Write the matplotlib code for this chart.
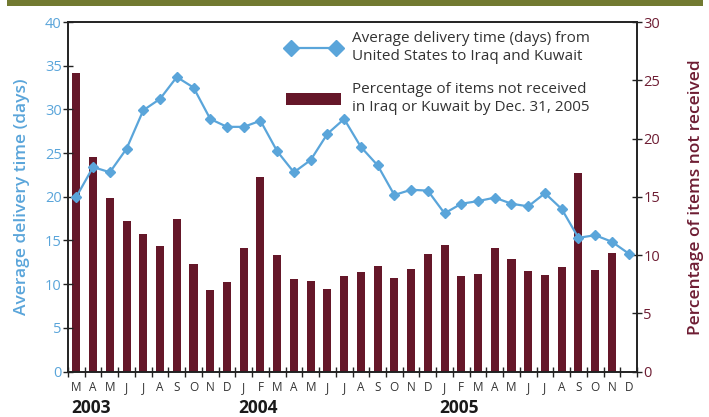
import matplotlib
matplotlib.use("Agg")
import matplotlib.pyplot as plt
from matplotlib.lines import Line2D
from matplotlib.patches import Patch, Rectangle
import numpy as np

plt.rcParams['font.family'] = ['Open Sans', 'DejaVu Sans']

months = ["M", "A", "M", "J", "J", "A", "S", "O", "N", "D",
          "J", "F", "M", "A", "M", "J", "J", "A", "S", "O", "N", "D",
          "J", "F", "M", "A", "M", "J", "J", "A", "S", "O", "N", "D"]
years = ["2003", "2004", "2005"]
year_start_idx = [0, 10, 22]

delivery_days = [20.0, 23.4, 22.8, 25.5, 29.9, 31.2, 33.7, 32.5, 28.9, 28.0,
                 28.0, 28.7, 25.2, 22.8, 24.2, 27.2, 28.9, 25.7, 23.6, 20.2,
                 20.8, 20.7, 18.1, 19.2, 19.5, 19.9, 19.2, 18.9, 20.4, 18.6,
                 15.3, 15.6, 14.85, 13.5]
pct_not_received = [25.66, 18.37, 14.9, 12.88, 11.79, 10.76, 13.1, 9.19, 6.99, 7.65,
                     10.62, 16.68, 10.02, 7.9, 7.76, 7.05, 8.16, 8.53, 9.05, 8.02,
                     8.76, 10.05, 10.82, 8.16, 8.39, 10.62, 9.62, 8.62, 8.3, 8.96,
                     17.0, 8.73, 10.19]

line_label = "Average delivery time (days) from\nUnited States to Iraq and Kuwait"
bar_label = "Percentage of items not received\nin Iraq or Kuwait by Dec. 31, 2005"

BLUE = "#5aa5da"
MAROON = "#651729"
TEXTMAROON = "#6e1d33"
OLIVE = "#727a31"

fig = plt.figure(figsize=(7.09, 4.17), dpi=100)
ax = fig.add_axes([68/709, 1 - 371.5/417, (637-68)/709, (371.5-22)/417])
ax2 = ax.twinx()

x = np.arange(len(months))
xb = np.arange(len(pct_not_received))

ax2.bar(xb, pct_not_received, width=0.48, color=MAROON, zorder=1)
ax2.set_ylim(0, 30)

ax.set_zorder(ax2.get_zorder() + 1)
ax.patch.set_visible(False)
ax.plot(x, delivery_days, color=BLUE, lw=1.6, marker="D", markersize=5.5,
        markeredgecolor=BLUE, markerfacecolor=BLUE, zorder=3)
ax.set_ylim(0, 40)
ax.set_xlim(-0.5, len(months) - 0.5)

# x ticks
ax.set_xticks(np.arange(-0.5, len(months) - 0.4, 1.0))
ax.set_xticklabels([])
ax.set_xticks(x, minor=True)
ax.set_xticklabels(months, minor=True, fontsize=8.5, color="#333333")
ax.tick_params(axis="x", which="major", direction="inout", length=7, width=1, color="#222222")
ax.tick_params(axis="x", which="minor", length=0, pad=7)

ax.set_yticks(np.arange(0, 41, 5))
ax.tick_params(axis="y", direction="inout", length=7, width=1, color="#222222",
               labelcolor=BLUE, labelsize=10.5, pad=1)
ax2.set_yticks(np.arange(0, 31, 5))
ax2.tick_params(axis="y", direction="inout", length=7, width=1, color="#222222",
                labelcolor=TEXTMAROON, labelsize=10.5, pad=1)

for a in (ax, ax2):
    for s in a.spines.values():
        s.set_linewidth(1.2)
        s.set_color("#222222")

ax.set_ylabel("Average delivery time (days)", color=BLUE, fontsize=12.5,
              fontweight="semibold", labelpad=11)
ax2.set_ylabel("Percentage of items not received", color=TEXTMAROON, fontsize=12.5,
               fontweight="semibold", labelpad=20)

for yl, xi in zip(years, year_start_idx):
    ax.text(xi - 0.3, -0.105, yl, transform=ax.get_xaxis_transform(), ha="left", va="center",
            fontsize=12.5, fontweight="bold", color="#1a1a1a")

handles = [Line2D([0], [0], color=BLUE, lw=1.6, marker="D", markersize=8),
           Patch(facecolor=MAROON)]
leg = ax.legend(handles, [line_label, bar_label], loc="upper left",
                bbox_to_anchor=(286/709, 1 - 31/417), bbox_transform=fig.transFigure,
                frameon=False, fontsize=11, handlelength=3.6, handleheight=0.8,
                handletextpad=0.75, labelspacing=1.15, numpoints=2, borderpad=0,
                borderaxespad=0)
for t in leg.get_texts():
    t.set_linespacing(1.3)
    t.set_color("#333333")

fig.patches.append(Rectangle((7/709, 1 - 6/417), 696/709, 6/417, transform=fig.transFigure,
                             facecolor=OLIVE, edgecolor="none"))

fig.savefig("out.png", dpi=100)
